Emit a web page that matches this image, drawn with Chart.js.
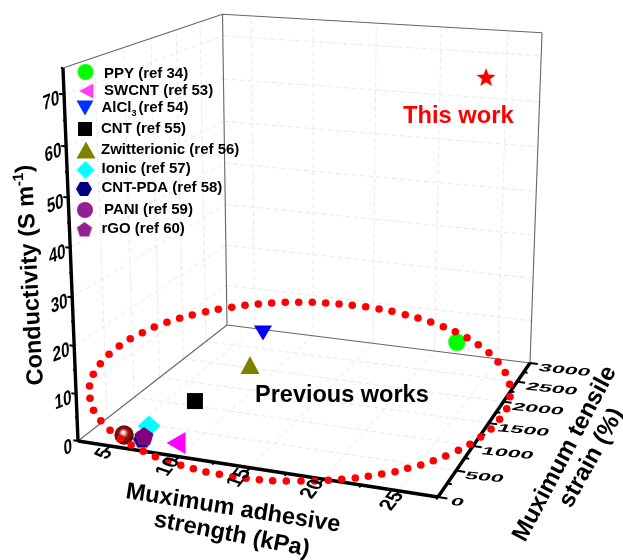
<!DOCTYPE html>
<html><head><meta charset="utf-8"><style>html,body{margin:0;padding:0;background:#fff}canvas{display:block}</style>
<script src="https://cdn.jsdelivr.net/npm/chart.js@4/dist/chart.umd.min.js"></script></head>
<body><canvas id="c" width="623" height="560"></canvas>
<script>
// ---------- data ----------
const seriesNames = ['PPY','SWCNT','AlCl3','CNT','Zwitterionic','Ionic','CNT-PDA','PANI','rGO'];
const seriesRefs = [34,53,54,55,56,57,58,59,60];
const seriesAdhesive = [21.9,9.19,6.40,7.30,8.18,6.26,6.85,5.38,6.77];
const seriesStrain = [2935,151,2802,1011,1967,388,123,152,171];
const seriesConductivity = [3.4,1,1,1,1,1,1,1,1];
const thisWorkAdhesive = [25.98];
const thisWorkStrain = [1812];
const thisWorkConductivity = [70];
const ringAdhesive = [-1.41,-0.25,1.03,2.40,3.75,5.07,6.21,7.41,8.54,9.61,10.66,11.64,12.60,13.54,14.48,15.36,16.23,17.07,17.89,18.76,19.56,20.34,21.08,21.82,22.51,23.20,23.89,24.49,25.13,25.70,26.25,26.78,27.24,27.60,27.91,28.04,28.04,27.71,27.11,26.23,25.18,24.03,22.80,21.55,20.30,19.07,17.79,16.53,15.31,14.02,12.83,11.60,10.43,9.28,8.14,7.02,5.95,4.89,3.89,2.94,2.03,1.20,0.36,-0.37,-1.05,-1.67,-2.21,-2.67,-2.96,-3.22,-3.26,-3.15,-2.82,-2.27];
const ringStrain = [1101,847,620,436,286,159,76,-1,-64,-110,-143,-167,-189,-192,-197,-189,-177,-159,-128,-90,-54,-6,46,103,167,242,317,411,505,616,736,878,1025,1197,1386,1611,1857,2133,2417,2685,2923,3132,3305,3459,3585,3684,3775,3846,3898,3952,3975,3996,3991,3983,3966,3940,3891,3844,3775,3699,3614,3509,3405,3293,3155,3021,2869,2701,2513,2321,2104,1872,1625,1366];
const adhesiveTicks = [5,10,15,20,25];
const adhesiveMinor = [7.5,12.5,17.5,22.5,27.5];
const strainTicks = [0,500,1000,1500,2000,2500,3000];
const strainMinor = [250,750,1250,1750,2250,2750];
const conductivityTicks = [0,10,20,30,40,50,60,70];
const conductivityMinor = [5,15,25,35,45,55,65,75];
const adhesiveRange = [2.6,27.5], strainRange = [0,3000], conductivityRange = [0,75];

// ---------- perspective camera of the 3D box ----------
const cam = {a:-0.0746,b:0.2108,c:-0.06,O:[78,441],A1:[327.3,18.9],A2:[196.85,-47.5],A3:[-18.8,-377.1]};
function project(ad,st,co){
  const x=(ad-adhesiveRange[0])/(adhesiveRange[1]-adhesiveRange[0]), y=(st-strainRange[0])/(strainRange[1]-strainRange[0]), z=(co-conductivityRange[0])/(conductivityRange[1]-conductivityRange[0]);
  const w=1+cam.a*x+cam.b*y+cam.c*z;
  return {x:(cam.O[0]+x*cam.A1[0]+y*cam.A2[0]+z*cam.A3[0])/w, y:(cam.O[1]+x*cam.A1[1]+y*cam.A2[1]+z*cam.A3[1])/w};
}
const GAP={x:NaN,y:NaN};
const [x0,x1]=adhesiveRange,[y0,y1]=strainRange,[z0,z1]=conductivityRange;
function segs(list){const out=[];list.forEach(s=>{out.push(project(...s[0]),project(...s[1]),GAP);});return out;}

// ---------- markers ----------
function mk(w,h,fn){const c=document.createElement('canvas');c.width=w;c.height=h;const g=c.getContext('2d');fn(g,w/2,h/2);return c;}
function poly(color,pts){return (g,cx,cy)=>{g.fillStyle=color;g.beginPath();pts.forEach((p,i)=>i?g.lineTo(cx+p[0],cy+p[1]):g.moveTo(cx+p[0],cy+p[1]));g.closePath();g.fill();};}
function regular(n,r,rot){const p=[];for(let i=0;i<n;i++){const t=rot+i*2*Math.PI/n;p.push([r*Math.cos(t),r*Math.sin(t)]);}return p;}
function disc(color,r){return (g,cx,cy)=>{g.fillStyle=color;g.beginPath();g.arc(cx,cy,r,0,7);g.fill();};}
function star(color,R){const p=[];for(let i=0;i<10;i++){const t=-Math.PI/2+i*Math.PI/5,r=i%2?R*0.42:R;p.push([r*Math.cos(t),r*Math.sin(t)]);}return poly(color,p);}
function sphere(g,cx,cy){const r=9.7,gr=g.createRadialGradient(cx-1,cy-3,0.5,cx,cy,r);gr.addColorStop(0,'#ffffff');gr.addColorStop(0.18,'#e8b0b0');gr.addColorStop(0.45,'#a01010');gr.addColorStop(1,'#5e0000');g.fillStyle=gr;g.beginPath();g.arc(cx,cy,r,0,7);g.fill();}
const plotMarkers=[
  mk(20,20,disc('#00ff00',8.7)),
  mk(24,26,poly('#ff00ff',[[-9.5,0],[9.5,-11],[9.5,11]])),
  mk(22,20,poly('#0000ff',[[-9,-7.5],[9,-7.5],[0,7.5]])),
  mk(20,20,poly('#000000',[[-8,-8],[8,-8],[8,8],[-8,8]])),
  mk(22,22,poly('#808000',[[0,-9],[9.5,9],[-9.5,9]])),
  mk(26,26,poly('#00ffff',[[0,-10.5],[11.5,0],[0,10.5],[-11.5,0]])),
  mk(24,24,poly('#000080',regular(6,9.5,0))),
  mk(22,22,sphere),
  mk(24,24,poly('#800080',regular(5,10,-Math.PI/2)))
];
const legendMarkers=[
  mk(20,20,disc('#00ff00',8)),
  mk(20,20,poly('#ff40f0',[[-7.5,0],[7,-7.5],[7,7.5]])),
  mk(22,20,poly('#0030ff',[[-8.5,-7.5],[8.5,-7.5],[0,7.5]])),
  mk(18,18,poly('#000000',[[-7,-7],[7,-7],[7,7],[-7,7]])),
  mk(24,22,poly('#808000',[[0,-8.5],[9.5,8.5],[-9.5,8.5]])),
  mk(22,22,poly('#00ffff',[[0,-9],[9,0],[0,9],[-9,0]])),
  mk(20,18,poly('#000080',regular(6,8,0))),
  mk(20,20,disc('#932090',8)),
  mk(20,20,poly('#932090',regular(5,8,-Math.PI/2)))
];
const starMarker=mk(24,24,star('#ff0000',10));
// legend layout: marker centre, text start, row y
const legendLayout=[[85.5,72,104,74],[86.5,91,104,91],[85,108,101.5,108],[85,129,101,129],[86,150,101,150],[85.5,170,101.5,169],[84,189,101.5,188],[85,210,104,210],[84.5,230,101.5,229]];

// ---------- line work ----------
const gridSegs=segs([
  ...adhesiveTicks.map(a=>[[a,y0,z0],[a,y1,z0]]),
  ...adhesiveTicks.map(a=>[[a,y1,z0],[a,y1,z1]]),
  ...strainTicks.slice(1,-1).map(s=>[[x0,s,z0],[x1,s,z0]]),
  ...strainTicks.slice(1,-1).map(s=>[[x0,s,z0],[x0,s,z1]]),
  ...conductivityTicks.slice(1).map(c=>[[x0,y0,c],[x0,y1,c]]),
  ...conductivityTicks.slice(1).map(c=>[[x0,y1,c],[x1,y1,c]])
]);
const frameSegs=segs([
  [[x0,y0,z0],[x0,y1,z0]],[[x0,y1,z0],[x1,y1,z0]],
  [[x0,y1,z0],[x0,y1,z1]],[[x1,y1,z0],[x1,y1,z1]],
  [[x0,y0,z1],[x0,y1,z1]],[[x0,y1,z1],[x1,y1,z1]]
]);
const axisSegs=segs([[[x0,y0,z0],[x0,y0,z1]],[[x0,y0,z0],[x1,y0,z0]],[[x1,y0,z0],[x1,y1,z0]]]);
const tickSegs=segs([
  ...conductivityTicks.map(c=>[[x0,y0,c],[x0-0.35,y0,c]]),
  ...conductivityMinor.map(c=>[[x0,y0,c],[x0-0.15,y0,c]]),
  ...adhesiveTicks.map(a=>[[a,y0,z0],[a,y0-90,z0]]),
  ...adhesiveMinor.map(a=>[[a,y0,z0],[a,y0-45,z0]]),
  ...strainTicks.map(s=>[[x1,s,z0],[x1+0.6,s,z0]]),
  ...strainMinor.map(s=>[[x1,s,z0],[x1+0.3,s,z0]])
]);
function lineDs(data,color,width,order,dash){return {type:'scatter',data,showLine:true,spanGaps:false,borderColor:color,borderWidth:width,borderDash:dash||[],pointRadius:0,pointHoverRadius:0,fill:false,tension:0,order,borderCapStyle:'butt'};}

// ---------- text ----------
const F="'Liberation Sans',Arial,sans-serif";
function skewText(g,t,px,py,m,align){g.save();g.setTransform(m[0],m[1],m[2],m[3],px,py);g.font='bold 10px '+F;g.textAlign=align;g.textBaseline='middle';g.fillStyle='#000';g.fillText(t,0,0);g.restore();}
function rotText(g,t,px,py,deg,size,color){g.save();g.translate(px,py);g.rotate(deg*Math.PI/180);g.font='bold '+size+'px '+F;g.textAlign='left';g.textBaseline='alphabetic';g.fillStyle=color||'#000';g.fillText(t,0,0);g.restore();}
const overlay={id:'overlay',afterDatasetsDraw(chart){
  const g=chart.ctx,sx=chart.scales.x,sy=chart.scales.y;
  const P=(a,s,c)=>{const p=project(a,s,c);return [sx.getPixelForValue(p.x),sy.getPixelForValue(p.y)];};
  conductivityTicks.forEach(c=>{const p=P(x0,y0,c);skewText(g,String(c),p[0]-(c?13:10),p[1]+7,[1.5,-0.6,0.1,2.05],'center');});
  adhesiveTicks.forEach(a=>{const p=P(a,y0,z0);skewText(g,String(a),p[0]-(a===5?6:a===25?7:11),p[1]+(a===5?8:10),[1.2,-1.5,2.0,0.7],'center');});
  strainTicks.forEach(s=>{const p=P(x1,s,z0);skewText(g,String(s),p[0]+(s===0?13:9),p[1]+5,[2.3,0.23,-0.5,1.05],'left');});
  // axis titles
  g.save();g.translate(43,385);g.rotate(-93*Math.PI/180);g.fillStyle='#000';g.textBaseline='alphabetic';g.textAlign='left';
  g.font='bold 23.5px '+F;const base='Conductivity (S m';g.fillText(base,0,0);let w=g.measureText(base).width;
  g.font='bold 15px '+F;g.fillText('-1',w,-9);w+=g.measureText('-1').width;g.font='bold 23.5px '+F;g.fillText(')',w,0);g.restore();
  rotText(g,'Muximum adhesive',125,498,9,23.5);
  rotText(g,'strength (kPa)',153,526,11,23.5);
  rotText(g,'Muximum tensile',525,543,-62,24);
  rotText(g,'strain (%)',571,509,-61,24);
  rotText(g,'This work',403,123,0,23.7,'#ff0000');
  rotText(g,'Previous works',255,402,0,23.5,'#000');
  // legend
  seriesNames.forEach((n,i)=>{const L=legendLayout[i],m=legendMarkers[i];
    g.drawImage(m,L[0]-m.width/2,L[1]-m.height/2);
    g.font='bold 15px '+F;g.fillStyle='#000';g.textAlign='left';g.textBaseline='middle';
    const ref='(ref '+seriesRefs[i]+')';
    if(n==='AlCl3'){g.fillText('AlCl',L[2],L[3]);const w=g.measureText('AlCl').width;g.font='bold 9px '+F;g.fillText('3',L[2]+w,L[3]+6);g.font='bold 15px '+F;g.fillText(ref,L[2]+w+7,L[3]);}
    else g.fillText(n+' '+ref,L[2],L[3]);
  });
}};

// ---------- chart ----------
const datasets=[
  {label:'ring',data:ringAdhesive.map((a,i)=>project(a,ringStrain[i],0)),pointRadius:3.8,pointBackgroundColor:'#ff0000',pointBorderWidth:0,showLine:false,order:0},
  {label:'This work',data:thisWorkAdhesive.map((a,i)=>project(a,thisWorkStrain[i],thisWorkConductivity[i])),pointStyle:starMarker,pointRadius:10,showLine:false,order:1}
];
seriesNames.forEach((n,i)=>{
  const ord={8:2,6:3,7:2,5:4,1:2,0:2,2:2,3:2,4:2}[i];
  datasets.push({label:n,data:[project(seriesAdhesive[i],seriesStrain[i],seriesConductivity[i])],pointStyle:plotMarkers[i],pointRadius:10,showLine:false,order:ord});
});
datasets.push(lineDs(axisSegs,'#000000',3.4,5));
datasets.push(lineDs(tickSegs,'#000000',2,6));
datasets.push(lineDs(frameSegs,'#666666',1.1,7));
datasets.push(lineDs(gridSegs,'#e8e8e8',1,8,[5,3]));
new Chart(document.getElementById('c'),{
  type:'scatter',data:{datasets},
  options:{responsive:false,animation:false,devicePixelRatio:1,layout:{padding:0,autoPadding:false},
    plugins:{legend:{display:false},tooltip:{enabled:false},title:{display:false}},
    scales:{x:{type:'linear',min:0,max:623,display:false},y:{type:'linear',min:0,max:560,reverse:true,display:false}}},
  plugins:[overlay]
});
</script></body></html>
